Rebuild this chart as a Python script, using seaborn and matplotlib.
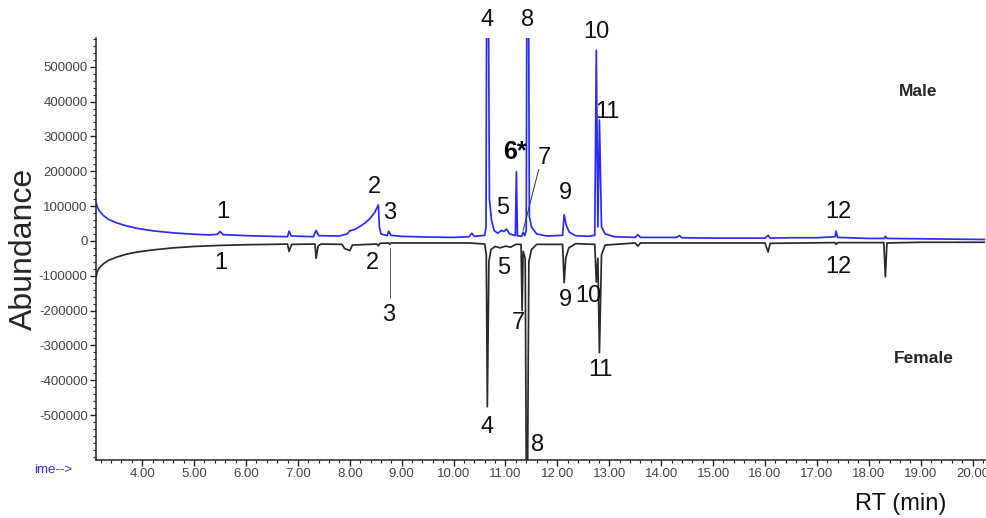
import numpy as np
import pandas as pd
import matplotlib
matplotlib.use("Agg")
import matplotlib.pyplot as plt
import seaborn as sns
from matplotlib.ticker import MultipleLocator, FixedLocator

# chromatogram traces (RT in min, abundance)
male_rt = [3.11, 3.14, 3.18, 3.25, 3.35, 3.5, 3.7, 3.9, 4.2, 4.6, 5.0, 5.3, 5.45, 5.50, 5.56,
           6.0, 6.5, 6.80, 6.83, 6.87, 7.30, 7.35, 7.40, 7.80, 7.95, 8.0, 8.1, 8.2, 8.3, 8.4,
           8.48, 8.55, 8.57, 8.60, 8.72, 8.75, 8.79, 9.0, 9.5, 10.0, 10.3, 10.35, 10.4, 10.60,
           10.625, 10.64, 10.665, 10.69, 10.73, 10.78, 10.85, 10.92, 10.97, 11.02, 11.08, 11.19,
           11.21, 11.23, 11.31, 11.34, 11.37, 11.40, 11.415, 11.44, 11.46, 11.5, 11.6, 11.8,
           12.1, 12.13, 12.17, 12.23, 12.35, 12.6, 12.72, 12.75, 12.78, 12.81, 12.85, 12.92,
           13.1, 13.5, 13.55, 13.6, 14.3, 14.35, 14.4, 15.0, 16.0, 16.06, 16.1, 16.5, 17.0,
           17.35, 17.37, 17.40, 18.0, 18.3, 18.32, 18.35, 19.0, 20.24]
male_ab = [110000, 96000, 85000, 73000, 62000, 52000, 43000, 36000, 29000, 23000, 19000, 17000,
           19000, 27000, 18000, 15000, 13000, 12000, 28000, 14000, 12000, 30000, 15000, 14000,
           20000, 29000, 33000, 42000, 52000, 66000, 82000, 103000, 40000, 20000, 15000, 28000,
           16000, 13000, 11000, 10000, 12000, 22000, 13000, 16000, 40000, 900000, 900000,
           120000, 60000, 30000, 22000, 30000, 27000, 34000, 20000, 15000, 198000, 15000, 13000,
           25000, 15000, 30000, 900000, 900000, 70000, 40000, 20000, 14000, 16000, 75000, 45000,
           25000, 15000, 13000, 16000, 547000, 40000, 347000, 40000, 20000, 12000, 10000, 18000,
           10000, 10000, 15000, 9000, 8000, 8000, 16000, 8000, 9000, 9000, 12000, 28000, 10000,
           7000, 7000, 13000, 7000, 6000, 4000]

female_rt = [3.11, 3.13, 3.17, 3.25, 3.35, 3.5, 3.7, 3.9, 4.2, 4.6, 5.0, 5.5, 6.0, 6.5, 6.80,
             6.83, 6.88, 7.33, 7.35, 7.39, 7.45, 7.85, 7.90, 8.0, 8.05, 8.52, 8.55, 8.58, 8.75,
             8.77, 8.79, 9.5, 10.3, 10.6, 10.63, 10.65, 10.68, 10.72, 10.8, 10.9, 11.0, 11.1,
             11.2, 11.30, 11.32, 11.34, 11.38, 11.405, 11.42, 11.45, 11.5, 11.6, 12.1, 12.13,
             12.16, 12.22, 12.35, 12.72, 12.75, 12.78, 12.81, 12.85, 12.92, 13.5, 13.55, 13.6,
             16.0, 16.06, 16.1, 17.35, 17.37, 17.4, 18.29, 18.32, 18.35, 19.0, 20.24]
female_ab = [-105000, -90000, -78000, -66000, -56000, -47000, -38000, -32000, -26000, -20000,
             -16000, -13000, -11000, -10000, -9000, -30000, -10000, -9000, -50000, -14000,
             -9000, -10000, -22000, -28000, -12000, -9000, -14000, -7000, -6000, -10000, -6000,
             -6000, -6000, -9000, -40000, -476000, -60000, -25000, -16000, -20000, -15000,
             -18000, -10000, -10000, -200000, -30000, -50000, -800000, -800000, -60000, -25000,
             -10000, -10000, -120000, -50000, -20000, -8000, -10000, -118000, -50000, -321000,
             -40000, -12000, -6000, -15000, -6000, -6000, -32000, -7000, -5000, -10000, -5000,
             -5000, -103000, -6000, -4000, -4000]

# peak labels
male_labels = ["1", "2", "3", "4", "5", "7", "8", "9", "10", "11", "12"]
male_label_rt = [5.55, 8.47, 8.76, 10.65, 10.95, 11.75, 11.43, 12.16, 12.75, 12.96, 17.42]
male_label_ab = [83000, 155000, 80000, 633000, 95000, 238000, 633000, 137000, 600000, 370000, 83000]

female_labels = ["1", "2", "3", "4", "5", "7", "8", "9", "10", "11", "12"]
female_label_rt = [5.51, 8.43, 8.75, 10.65, 10.96, 11.25, 11.61, 12.16, 12.59, 12.83, 17.42]
female_label_ab = [-63000, -63000, -212000, -533000, -77000, -235000, -585000, -169000,
                   -158000, -370000, -75000]

y_ticks = [-500000, -400000, -300000, -200000, -100000, 0, 100000, 200000, 300000, 400000, 500000]
x_ticks = [4, 5, 6, 7, 8, 9, 10, 11, 12, 13, 14, 15, 16, 17, 18, 19, 20]

df = pd.concat([
    pd.DataFrame({"RT": male_rt, "Abundance": male_ab, "Sex": "Male"}),
    pd.DataFrame({"RT": female_rt, "Abundance": female_ab, "Sex": "Female"}),
])

sns.set_style("ticks")
plt.rcParams["font.family"] = ["Liberation Sans", "DejaVu Sans"]

fig = plt.figure(figsize=(9.86, 5.18), dpi=100)
ax = fig.add_axes([0.0974, 0.112, 0.9016, 0.815])

sns.lineplot(data=df, x="RT", y="Abundance", hue="Sex", estimator=None, sort=False,
             palette={"Male": "#2b2bff", "Female": "#2a2a2a"}, linewidth=1.25,
             legend=False, ax=ax)

ax.set_xlim(3.11, 20.24)
ax.set_ylim(-629000, 583000)

ax.xaxis.set_major_locator(FixedLocator(x_ticks))
ax.xaxis.set_minor_locator(MultipleLocator(0.2))
ax.yaxis.set_major_locator(FixedLocator(y_ticks))
ax.yaxis.set_minor_locator(MultipleLocator(20000))
ax.set_xticklabels([f"{t:.2f}" for t in x_ticks])
ax.set_yticklabels([str(v) for v in y_ticks])
ax.tick_params(axis="both", which="major", length=4, width=1, labelsize=9.5,
               labelcolor="#444444", color="#222222", pad=2)
ax.tick_params(axis="both", which="minor", length=2.5, width=0.8, color="#222222")
sns.despine(ax=ax)
ax.spines["left"].set_linewidth(1.1)
ax.spines["bottom"].set_linewidth(1.1)

ax.set_xlabel("")
ax.set_ylabel("Abundance", fontsize=23, labelpad=0)
fig.text(0.913, 0.005, "RT (min)", fontsize=17, ha="center", va="bottom", color="#111111")
fig.text(0.035, 0.093, "ime-->", fontsize=9.5, color="#2b2bff", ha="left", va="center")

for lab, x, y in zip(male_labels, male_label_rt, male_label_ab):
    ax.text(x, y, lab, fontsize=17, ha="center", va="center", color="#111111", clip_on=False)
for lab, x, y in zip(female_labels, female_label_rt, female_label_ab):
    ax.text(x, y, lab, fontsize=17, ha="center", va="center", color="#111111", clip_on=False)

ax.text(11.18, 255000, "6*", fontsize=18, fontweight="bold", ha="center", va="center",
        color="#000000")
ax.plot([11.34, 11.64], [30000, 205000], color="#333333", linewidth=0.7)
ax.plot([8.77, 8.77], [-20000, -165000], color="#555555", linewidth=0.7)

ax.text(18.96, 430000, "Male", fontsize=12.5, fontweight="bold", ha="center", va="center")
ax.text(19.06, -338000, "Female", fontsize=12.5, fontweight="bold", ha="center", va="center")

plt.savefig("out.png", dpi=100)
